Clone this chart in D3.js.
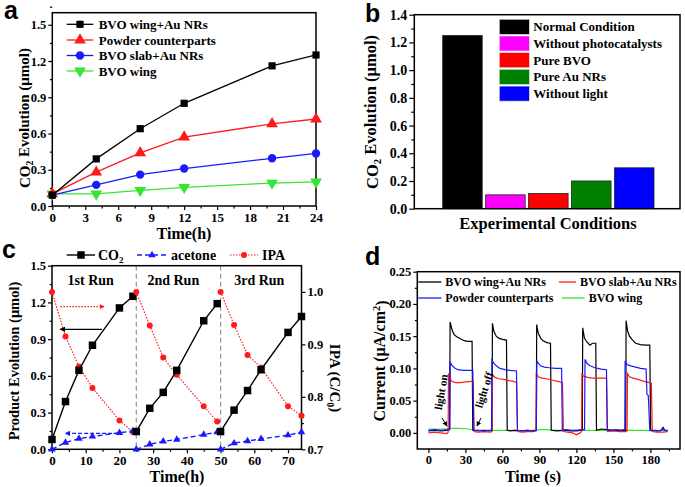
<!DOCTYPE html>
<html><head><meta charset="utf-8">
<script src="https://cdn.jsdelivr.net/npm/d3@7"></script>
<style>body{margin:0;background:#fff}svg{display:block}</style>
</head><body>
<script>
// ---------- DATA ----------
// panel a
const timeA = [0, 4, 8, 12, 20, 24];
const seriesNamesA = ["BVO wing+Au NRs", "Powder counterparts", "BVO slab+Au NRs", "BVO wing"];
const wingAuA = [0.09, 0.39, 0.64, 0.85, 1.16, 1.25];
const powderA = [0.10, 0.28, 0.44, 0.57, 0.68, 0.72];
const slabAuA = [0.09, 0.175, 0.26, 0.31, 0.395, 0.435];
const wingA = [0.10, 0.10, 0.13, 0.155, 0.19, 0.20];
const xTicksA = [0, 3, 6, 9, 12, 15, 18, 21, 24];
const yTicksA = [0, 0.3, 0.6, 0.9, 1.2, 1.5];
// panel b
const condB = ["Normal Condition", "Without photocatalysts", "Pure BVO", "Pure Au NRs", "Without light"];
const valB = [1.25, 0.10, 0.11, 0.20, 0.295];
const yTicksB = [0, 0.2, 0.4, 0.6, 0.8, 1.0, 1.2, 1.4];
// panel c
const runLabelsC = ["1st Run", "2nd Run", "3rd Run"];
const timeC = [[0, 4, 8, 12, 20, 24], [25, 29, 33, 37, 45, 49], [50, 54, 58, 62, 70, 74]];
const co2C = [[0.08, 0.39, 0.645, 0.85, 1.155, 1.25], [0.145, 0.335, 0.465, 0.645, 1.05, 1.19], [0.145, 0.32, 0.48, 0.65, 0.955, 1.085]];
const acetoneC = [[0, 0.055, 0.087, 0.105, 0.135, 0.15], [0, 0.04, 0.065, 0.08, 0.12, 0.14], [0, 0.05, 0.068, 0.085, 0.115, 0.14]];
const ipaC = [[1.0, 0.915, 0.858, 0.817, 0.755, 0.733], [1.0, 0.936, 0.875, 0.842, 0.782, 0.753], [1.0, 0.937, 0.88, 0.856, 0.782, 0.764]];
const runBoundsC = [25, 50];
const xTicksC = [0, 10, 20, 30, 40, 50, 60, 70];
const yTicksC = [0, 0.3, 0.6, 0.9, 1.2, 1.5];
const y2TicksC = [0.7, 0.8, 0.9, 1.0];
// panel d
const seriesNamesD = ["BVO wing+Au NRs", "BVO slab+Au NRs", "Powder counterparts", "BVO wing"];
const wingAuD = [[0,0.003],[5,0.004],[10,0.003],[15,0.004],[17.2,0.005],[17.6,0.172],[18.5,0.165],[19.5,0.158],[21,0.152],[23,0.149],[26,0.146],[29,0.143],[32,0.142],[35.4,0.142],[36,0.004],[40,0.003],[45,0.004],[50,0.003],[51.6,0.004],[51.9,0.170],[53,0.158],[55,0.150],[57,0.147],[60,0.145],[63.3,0.144],[63.9,0.004],[66,0.003],[70,0.004],[75,0.003],[80,0.004],[85,0.003],[87.5,0.004],[87.8,0.168],[89,0.155],[91,0.147],[93,0.143],[96,0.140],[99,0.139],[99.6,0.004],[104,0.003],[110,0.004],[115,0.003],[120,0.003],[124.8,0.004],[125.1,0.163],[126.5,0.147],[128.5,0.141],[131,0.136],[133,0.139],[135.7,0.139],[136.3,0.004],[140,0.006],[145,0.005],[150,0.004],[155,0.004],[160,0.004],[160.3,0.174],[161.5,0.158],[163,0.150],[165,0.145],[168,0.139],[172,0.137],[176,0.136],[179.5,0.136],[180.2,0.004],[185,0.003],[189,0.004],[190.5,0.008],[191.5,0.004],[194,0.004]];
const slabAuD = [[0,0.0],[5,0.001],[10,0.0],[15,-0.001],[16,0.001],[16.3,0.092],[17.5,0.084],[19,0.080],[22,0.078],[26,0.078],[30,0.079],[35,0.080],[36.3,0.079],[37,0.002],[40,0.001],[45,0.002],[50,0.001],[51.7,0.002],[52,0.090],[54,0.086],[57,0.084],[61,0.083],[65,0.081],[69,0.080],[71.5,0.078],[72.3,0.002],[76,0.001],[80,0.002],[85,0.002],[87.2,0.003],[87.5,0.092],[89,0.087],[92,0.085],[96,0.084],[100,0.082],[105,0.080],[108.7,0.078],[109.5,0.002],[113,0.001],[117,0.0],[120,-0.003],[123,0.0],[124.2,0.002],[124.5,0.091],[126,0.088],[129,0.086],[133,0.085],[138,0.085],[144.4,0.085],[145.2,0.002],[150,0.003],[155,0.002],[160,0.002],[161.1,0.003],[161.4,0.092],[163,0.087],[166,0.085],[170,0.083],[175,0.080],[179,0.078],[180.8,0.077],[181.5,0.002],[185,0.001],[190,0.001],[194,0.002]];
const powderD = [[0,0.004],[5,0.005],[10,0.004],[15,0.005],[17.3,0.006],[17.7,0.110],[19,0.105],[21,0.101],[24,0.098],[28,0.097],[32,0.097],[36,0.097],[36.8,0.004],[40,0.004],[45,0.003],[50,0.004],[51.2,0.004],[51.5,0.113],[53,0.108],[55,0.104],[58,0.100],[62,0.098],[66,0.097],[71.4,0.096],[72.2,0.004],[76,0.003],[80,0.004],[85,0.003],[87.5,0.004],[87.9,0.112],[89,0.108],[91,0.104],[94,0.102],[98,0.101],[103,0.100],[108,0.100],[108.6,0.004],[112,0.005],[116,0.004],[120,0.004],[124,0.005],[126.6,0.005],[127,0.114],[128.5,0.108],[131,0.104],[135,0.101],[140,0.099],[144.4,0.098],[145,0.005],[148,0.004],[152,0.005],[156,0.004],[159.2,0.005],[159.5,0.112],[161,0.106],[164,0.104],[168,0.102],[172,0.100],[176.5,0.099],[177.2,0.060],[178.3,0.058],[179.5,0.004],[184,0.004],[188,0.003],[190,0.008],[191,0.004],[194,0.003]];
const wingD = [[0,0.006],[10,0.006],[15,0.006],[17,0.007],[25,0.007],[33,0.006],[38,0.004],[50,0.004],[60,0.004],[70,0.004],[80,0.003],[90,0.005],[95,0.005],[105,0.004],[120,0.004],[130,0.004],[145,0.004],[160,0.004],[175,0.004],[182,0.003],[194,0.003]];
const xTicksD = [0, 30, 60, 90, 120, 150, 180];
const yTicksD = [0, 0.05, 0.10, 0.15, 0.20, 0.25];

// ---------- DRAW ----------
const W = 685, H = 487;
const SERIF = "'Liberation Serif','Times New Roman',serif";
const SANS = "'Liberation Sans',Arial,sans-serif";
const svg = d3.select("body").append("svg").attr("width", W).attr("height", H)
  .style("font-family", SERIF).style("font-weight", "bold");

function styleAxis(g, fs) {
  g.select(".domain").remove();
  g.selectAll("line").attr("stroke", "#000").attr("stroke-width", 1.2);
  g.selectAll("text").attr("font-family", SERIF).attr("font-weight", "bold").attr("font-size", fs).attr("fill", "#000");
}
function axisSet(g, axisFn, scale, major, minor, fs, len, pad, fmt) {
  const a = g.append("g").call(axisFn(scale).tickValues(major).tickSize(len).tickPadding(pad).tickFormat(fmt));
  styleAxis(a, fs);
  if (minor) {
    const m = g.append("g").call(axisFn(scale).tickValues(minor).tickSize(len * 0.6).tickFormat(""));
    styleAxis(m, fs);
  }
  return a;
}
function frame(x0, y0, x1, y1) {
  svg.append("rect").attr("x", x0).attr("y", y0).attr("width", x1 - x0).attr("height", y1 - y0)
    .attr("fill", "none").attr("stroke", "#000").attr("stroke-width", 1.5);
}
function panelLabel(t, x, y, fs) {
  svg.append("text").attr("x", x).attr("y", y).text(t).attr("font-family", SANS)
    .attr("font-weight", "bold").attr("font-size", fs || 26);
}
function vTitle(x, y, parts, fs, rot) {
  const t = svg.append("text").attr("transform", `translate(${x},${y}) rotate(${rot})`)
    .attr("text-anchor", "middle").attr("font-size", fs).attr("dy", "0.35em");
  parts.forEach(p => {
    const s = t.append("tspan").text(p[0]);
    if (p[1] === "sub") s.attr("dy", "0.3em").attr("font-size", fs * 0.65);
    if (p[1] === "back") s.attr("dy", "-0.3em");
    if (p[1] === "sup") s.attr("dy", "-0.45em").attr("font-size", fs * 0.65);
    if (p[1] === "supback") s.attr("dy", "0.45em");
  });
  return t;
}
const fmt1 = d3.format(".1f"), fmt2 = d3.format(".2f");
const range = (a, b, s) => d3.range(a, b + s / 2, s);
const sym = (type, size) => d3.symbol().type(type).size(size)();

// ===== Panel a =====
{
  const x = d3.scaleLinear().domain([0, 24]).range([52.3, 316]);
  const y = d3.scaleLinear().domain([0, 1.6]).range([206, 12.7]);
  const gx = svg.append("g").attr("transform", "translate(0,206)");
  axisSet(gx, d3.axisBottom, x, xTicksA, range(1.5, 22.5, 3), 13, 4, 3, d3.format("d"));
  const gy = svg.append("g").attr("transform", "translate(52.3,0)");
  axisSet(gy, d3.axisLeft, y, yTicksA, range(0.15, 1.55, 0.3), 12.5, 4, 2, fmt1);
  frame(52.3, 12.7, 316, 206);
  const series = [
    {v: wingAuA, c: "#000", s: d3.symbolSquare, sz: 52, r: 0},
    {v: powderA, c: "#ff1a1a", s: d3.symbolTriangle, sz: 60, r: 0},
    {v: slabAuA, c: "#1a1aff", s: d3.symbolCircle, sz: 55, r: 0},
    {v: wingA, c: "#33e633", s: d3.symbolTriangle, sz: 60, r: 180}
  ];
  const line = d3.line().x((d, i) => x(timeA[i])).y(d => y(d));
  series.slice().reverse().forEach(se => {
    svg.append("path").attr("d", line(se.v)).attr("fill", "none").attr("stroke", se.c).attr("stroke-width", 1.3);
    svg.append("g").selectAll("path").data(se.v).join("path")
      .attr("transform", (d, i) => `translate(${x(timeA[i])},${y(d)}) rotate(${se.r})`)
      .attr("d", sym(se.s, se.sz)).attr("fill", se.c);
  });
  const ly = [24.3, 40, 55.5, 71];
  series.forEach((se, i) => {
    svg.append("line").attr("x1", 66.7).attr("x2", 93.3).attr("y1", ly[i]).attr("y2", ly[i]).attr("stroke", se.c).attr("stroke-width", 1.3);
    svg.append("path").attr("transform", `translate(80,${ly[i]}) rotate(${se.r})`).attr("d", sym(se.s, se.sz)).attr("fill", se.c);
    svg.append("text").attr("x", 98.7).attr("y", ly[i]).attr("dy", "0.35em").attr("font-size", 13).text(seriesNamesA[i]);
  });
  svg.append("text").attr("x", 184).attr("y", 239).attr("text-anchor", "middle").attr("font-size", 16).text("Time(h)");
  vTitle(25, 118, [["CO"], ["2", "sub"], [" Evolution (μmol)", "back"]], 15, -90);
  panelLabel("a", 4, 19, 25);
}

// ===== Panel b =====
{
  const x = d3.scaleBand().domain(condB).range([442.7, 654]).paddingInner(0.08).paddingOuter(0);
  const y = d3.scaleLinear().domain([0, 1.4]).range([208.7, 14.7]);
  const colors = ["#000000", "#ff00ff", "#ff0000", "#008000", "#0000ff"];
  const gy = svg.append("g").attr("transform", "translate(414.3,0)");
  axisSet(gy, d3.axisLeft, y, yTicksB, range(0.1, 1.3, 0.2), 14, 5, 2, fmt1);
  svg.append("g").selectAll("rect").data(valB).join("rect")
    .attr("x", (d, i) => x(condB[i])).attr("width", x.bandwidth())
    .attr("y", d => y(d)).attr("height", d => y(0) - y(d))
    .attr("fill", (d, i) => colors[i]).attr("stroke", "#222").attr("stroke-width", 0.8);
  frame(414.3, 14.7, 680, 208.7);
  const ly0 = 19.3, lh = 16.7;
  condB.forEach((c, i) => {
    svg.append("rect").attr("x", 499.3).attr("y", ly0 + i * lh).attr("width", 30).attr("height", 15)
      .attr("fill", colors[i]).attr("stroke", "#ddd").attr("stroke-width", 0.6);
    svg.append("text").attr("x", 533.3).attr("y", ly0 + i * lh + 7.5).attr("dy", "0.35em").attr("font-size", 13).text(c);
  });
  svg.append("text").attr("x", 548).attr("y", 229).attr("text-anchor", "middle").attr("font-size", 16.5).text("Experimental Conditions");
  vTitle(372, 112, [["CO"], ["2", "sub"], [" Evolution (μmol)", "back"]], 16.5, -90);
  panelLabel("b", 365, 22, 25);
}

// ===== Panel c =====
{
  const x = d3.scaleLinear().domain([0, 74]).range([52, 301.5]);
  const y = d3.scaleLinear().domain([0, 1.5]).range([449.3, 265.7]);
  const y2 = d3.scaleLinear().domain([0.7, 1.05]).range([449.3, 265.7]);
  const gx = svg.append("g").attr("transform", "translate(0,449.3)");
  axisSet(gx, d3.axisBottom, x, xTicksC, range(5, 65, 10), 13, 4, 2, d3.format("d"));
  const gy = svg.append("g").attr("transform", "translate(52,0)");
  axisSet(gy, d3.axisLeft, y, yTicksC, range(0.15, 1.35, 0.3), 12.5, 4, 2, fmt1);
  const gy2 = svg.append("g").attr("transform", "translate(301.5,0)");
  axisSet(gy2, d3.axisRight, y2, y2TicksC, range(0.75, 0.95, 0.1), 12.5, 4, 2, fmt1);
  runBoundsC.forEach(b => svg.append("line").attr("x1", x(b)).attr("x2", x(b)).attr("y1", 265.7).attr("y2", 449.3)
    .attr("stroke", "#999").attr("stroke-width", 1.2).attr("stroke-dasharray", "5,3"));
  frame(52, 265.7, 301.5, 449.3);
  runLabelsC.forEach((r, i) => {
    svg.append("text").attr("x", [90.7, 173.3, 259.3][i]).attr("y", 285).attr("text-anchor", "middle").attr("font-size", 14).text(r);
  });
  for (let k = 0; k < 3; k++) {
    const tt = timeC[k];
    const lIpa = d3.line().x((d, i) => x(tt[i])).y(d => y2(d));
    const l = d3.line().x((d, i) => x(tt[i])).y(d => y(d));
    svg.append("path").attr("d", lIpa(ipaC[k])).attr("fill", "none").attr("stroke", "#ff1a1a").attr("stroke-width", 1.2).attr("stroke-dasharray", "1.5,1.5");
    svg.append("g").selectAll("circle").data(ipaC[k]).join("circle").attr("cx", (d, i) => x(tt[i])).attr("cy", d => y2(d)).attr("r", 3).attr("fill", "#ff1a1a");
    svg.append("path").attr("d", l(acetoneC[k])).attr("fill", "none").attr("stroke", "#1a1aff").attr("stroke-width", 1.4).attr("stroke-dasharray", "5,3");
    svg.append("g").selectAll("path").data(acetoneC[k]).join("path").attr("transform", (d, i) => `translate(${x(tt[i])},${y(d)})`).attr("d", sym(d3.symbolTriangle, 24)).attr("fill", "#1a1aff");
    svg.append("path").attr("d", l(co2C[k])).attr("fill", "none").attr("stroke", "#000").attr("stroke-width", 1.4);
    svg.append("g").selectAll("path").data(co2C[k]).join("path").attr("transform", (d, i) => `translate(${x(tt[i])},${y(d)})`).attr("d", sym(d3.symbolSquare, 56)).attr("fill", "#000");
  }
  const defs = svg.append("defs");
  [["ak", "#000"], ["ab", "#1a1aff"], ["ar", "#ff1a1a"]].forEach(([id, c]) => {
    defs.append("marker").attr("id", id).attr("viewBox", "0 0 10 10").attr("refX", 9).attr("refY", 5)
      .attr("markerWidth", 4).attr("markerHeight", 4).attr("orient", "auto")
      .append("path").attr("d", "M0,0L10,5L0,10z").attr("fill", c);
  });
  svg.append("line").attr("x1", x(14.8)).attr("x2", x(2.4)).attr("y1", y(0.98)).attr("y2", y(0.98)).attr("stroke", "#000").attr("stroke-width", 1.4).attr("marker-end", "url(#ak)");
  svg.append("line").attr("x1", x(19.6)).attr("x2", x(3.9)).attr("y1", y(0.13)).attr("y2", y(0.13)).attr("stroke", "#1a1aff").attr("stroke-width", 1.4).attr("stroke-dasharray", "4,2").attr("marker-end", "url(#ab)");
  svg.append("line").attr("x1", x(2.5)).attr("x2", x(15.5)).attr("y1", y2(0.972)).attr("y2", y2(0.972)).attr("stroke", "#ff1a1a").attr("stroke-width", 1.2).attr("stroke-dasharray", "1.5,1.5").attr("marker-end", "url(#ar)");
  const ly = 255;
  svg.append("line").attr("x1", 66.7).attr("x2", 95).attr("y1", ly).attr("y2", ly).attr("stroke", "#000").attr("stroke-width", 1.4);
  svg.append("path").attr("transform", `translate(81,${ly})`).attr("d", sym(d3.symbolSquare, 56)).attr("fill", "#000");
  const tc = svg.append("text").attr("x", 98).attr("y", ly).attr("dy", "0.35em").attr("font-size", 14);
  tc.append("tspan").text("CO"); tc.append("tspan").text("2").attr("font-size", 9).attr("dy", "0.3em");
  svg.append("line").attr("x1", 137).attr("x2", 167).attr("y1", ly).attr("y2", ly).attr("stroke", "#1a1aff").attr("stroke-width", 1.4).attr("stroke-dasharray", "5,3");
  svg.append("path").attr("transform", `translate(152,${ly})`).attr("d", sym(d3.symbolTriangle, 24)).attr("fill", "#1a1aff");
  svg.append("text").attr("x", 171).attr("y", ly).attr("dy", "0.35em").attr("font-size", 14).text("acetone");
  svg.append("line").attr("x1", 230).attr("x2", 258).attr("y1", ly).attr("y2", ly).attr("stroke", "#ff1a1a").attr("stroke-width", 1.2).attr("stroke-dasharray", "1.5,1.5");
  svg.append("circle").attr("cx", 244).attr("cy", ly).attr("r", 3).attr("fill", "#ff1a1a");
  svg.append("text").attr("x", 262).attr("y", ly).attr("dy", "0.35em").attr("font-size", 14).text("IPA");
  svg.append("text").attr("x", 177).attr("y", 482).attr("text-anchor", "middle").attr("font-size", 16).text("Time(h)");
  vTitle(14, 361, [["Product Evolution (μmol)"]], 14.5, -90);
  vTitle(335, 378, [["IPA (C/C"], ["0", "sub"], [")", "back"]], 15, 90);
  panelLabel("c", 2, 258, 25);
}

// ===== Panel d =====
{
  const x = d3.scaleLinear().domain([-9, 204]).range([417.3, 680]);
  const y = d3.scaleLinear().domain([-0.025, 0.25]).range([449, 271.7]);
  const gx = svg.append("g").attr("transform", "translate(0,449)");
  axisSet(gx, d3.axisBottom, x, xTicksD, range(15, 195, 30), 12.5, 4, 2.5, d3.format("d"));
  const gy = svg.append("g").attr("transform", "translate(417.3,0)");
  axisSet(gy, d3.axisLeft, y, yTicksD, range(0.025, 0.225, 0.05), 12.5, 4, 2, fmt2);
  const line = d3.line().x(d => x(d[0])).y(d => y(d[1]));
  const ser = [
    {v: wingD, c: "#33e633"},
    {v: wingAuD, c: "#000"},
    {v: slabAuD, c: "#ff1a1a"},
    {v: powderD, c: "#1a1aff"}
  ];
  ser.forEach(s => svg.append("path").attr("d", line(s.v)).attr("fill", "none").attr("stroke", s.c).attr("stroke-width", 1.2));
  frame(417.3, 271.7, 680, 449);
  const leg = [
    {n: seriesNamesD[0], c: "#000", x: 418.3, y: 282, w: 23},
    {n: seriesNamesD[1], c: "#ff1a1a", x: 559, y: 282, w: 17},
    {n: seriesNamesD[2], c: "#1a1aff", x: 418.3, y: 298, w: 23},
    {n: seriesNamesD[3], c: "#33e633", x: 561.7, y: 298, w: 23}
  ];
  leg.forEach(l => {
    svg.append("line").attr("x1", l.x).attr("x2", l.x + l.w).attr("y1", l.y).attr("y2", l.y).attr("stroke", l.c).attr("stroke-width", 1.3);
    svg.append("text").attr("x", l.x + l.w + 4).attr("y", l.y).attr("dy", "0.35em").attr("font-size", 12).text(l.n);
  });
  svg.append("text").attr("transform", "translate(441,392) rotate(-80)").attr("text-anchor", "middle").attr("dy", "0.35em").attr("font-size", 11).text("light on");
  svg.append("text").attr("transform", "translate(484,390) rotate(-72)").attr("text-anchor", "middle").attr("dy", "0.35em").attr("font-size", 11).text("light off");
  const dm = svg.append("defs");
  dm.append("marker").attr("id", "ad").attr("viewBox", "0 0 10 10").attr("refX", 9).attr("refY", 5)
    .attr("markerWidth", 5).attr("markerHeight", 5).attr("orient", "auto")
    .append("path").attr("d", "M0,0L10,5L0,10z").attr("fill", "#000");
  svg.append("line").attr("x1", 442).attr("y1", 418).attr("x2", 447).attr("y2", 426).attr("stroke", "#000").attr("stroke-width", 1).attr("marker-end", "url(#ad)");
  svg.append("line").attr("x1", 481).attr("y1", 418).attr("x2", 477).attr("y2", 426).attr("stroke", "#000").attr("stroke-width", 1).attr("marker-end", "url(#ad)");
  svg.append("text").attr("x", 533).attr("y", 482).attr("text-anchor", "middle").attr("font-size", 16).text("Time (s)");
  vTitle(379, 361, [["Current (μA/cm"], ["2", "sup"], [")", "supback"]], 16, -90);
  panelLabel("d", 365, 265, 25);
}
</script>
</body></html>
